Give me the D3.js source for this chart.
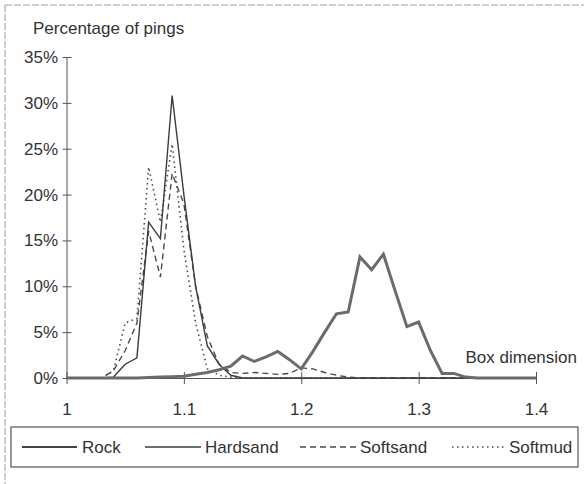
<!DOCTYPE html>
<html>
<head>
<meta charset="utf-8">
<script src="https://cdn.jsdelivr.net/npm/d3@7"></script>
<style>
  body { margin: 0; background: #fff; }
  text { font-family: "Liberation Sans", Arial, sans-serif; fill: #333; }
</style>
</head>
<body>
<div id="chart-area"></div>
<script>
// DATA ---------------------------------------------------------------
const boxDim = [1.00, 1.01, 1.02, 1.03, 1.04, 1.05, 1.06, 1.07, 1.08, 1.09,
                1.10, 1.11, 1.12, 1.13, 1.14, 1.15, 1.16, 1.17, 1.18, 1.19,
                1.20, 1.21, 1.22, 1.23, 1.24, 1.25, 1.26, 1.27, 1.28, 1.29,
                1.30, 1.31, 1.32, 1.33, 1.34, 1.35, 1.36, 1.37, 1.38, 1.39, 1.40]

const rock     = [0, 0, 0, 0, 0, 0, 0, 0.05, 0.1, 0.15,
                  0.2, 0.4, 0.6, 0.9, 1.3, 2.4, 1.8, 2.3, 2.9, 2.0,
                  1.0, 2.9, 5.0, 7.0, 7.2, 13.2, 11.8, 13.5, 9.5, 5.6,
                  6.1, 3.0, 0.5, 0.5, 0.1, 0, 0, 0, 0, 0, 0]
const hardsand = [0, 0, 0, 0, 0.1, 1.5, 2.2, 17.0, 15.2, 30.8,
                  20.0, 10.0, 3.5, 1.5, 0.3, 0, 0, 0, 0, 0,
                  0, 0, 0, 0, 0, 0, 0, 0, 0, 0,
                  0, 0, 0, 0, 0, 0, 0, 0, 0, 0, 0]
const softsand = [0, 0, 0, 0, 0.8, 3.0, 6.0, 16.0, 11.0, 22.3,
                  19.0, 10.0, 4.5, 1.5, 0.6, 0.5, 0.6, 0.5, 0.4, 0.5,
                  1.1, 1.0, 0.6, 0.3, 0.1, 0, 0, 0, 0, 0,
                  0, 0, 0, 0, 0, 0, 0, 0, 0, 0, 0]
const softmud  = [0, 0, 0, 0, 0.8, 6.0, 6.5, 23.0, 17.0, 25.5,
                  14.0, 6.0, 1.0, 0.3, 0.1, 0, 0, 0, 0, 0,
                  0, 0, 0, 0, 0, 0, 0, 0, 0, 0,
                  0, 0, 0, 0, 0, 0, 0, 0, 0, 0, 0]

const seriesNames = ['Rock', 'Hardsand', 'Softsand', 'Softmud']
const xTicks = [1, 1.1, 1.2, 1.3, 1.4]
const yTicks = [0, 5, 10, 15, 20, 25, 30, 35]

// styles per series
const STYLE = {
  Rock:     { stroke: '#6b6b6b', width: 3,   dash: null },
  Hardsand: { stroke: '#3c3c3c', width: 1.4, dash: null },
  Softsand: { stroke: '#4a4a4a', width: 1.4, dash: '6,4' },
  Softmud:  { stroke: '#4a4a4a', width: 1.6, dash: '1.5,3.5' }
}

// SVG ------------------------------------------------------------------
const W = 584, H = 484
const svg = d3.select('#chart-area').append('svg')
  .attr('width', W).attr('height', H)

// scanned page frame
svg.append('line').attr('x1', 5).attr('y1', 5).attr('x2', W).attr('y2', 5)
  .attr('stroke', '#9a9a9a').attr('stroke-dasharray', '7,2')
svg.append('line').attr('x1', 5).attr('y1', 5).attr('x2', 5).attr('y2', H)
  .attr('stroke', '#9a9a9a').attr('stroke-dasharray', '7,2')

// SCALES ---------------------------------------------------------------
const xScale = d3.scaleLinear().domain([1, 1.4]).range([66.5, 536])
const yScale = d3.scaleLinear().domain([0, 35]).range([378, 57])

// AXES -----------------------------------------------------------------
const gY = svg.append('g').attr('transform', 'translate(66.5,0)')
  .call(d3.axisLeft(yScale).tickValues(yTicks).tickFormat(d => d + '%')
    .tickSize(4).tickPadding(4.5).tickSizeOuter(0))
gY.selectAll('.tick line').attr('x2', 5).attr('x1', -4)
gY.selectAll('text').style('font-size', '17px')

const gX = svg.append('g').attr('transform', 'translate(0,378)')
  .call(d3.axisBottom(xScale).tickValues(xTicks).tickFormat(d3.format(''))
    .tickSize(6).tickPadding(19).tickSizeOuter(0))
gX.selectAll('.tick line').attr('y1', -6).attr('y2', 6)
gX.selectAll('text').style('font-size', '17px')

svg.selectAll('.domain, .tick line').attr('stroke', '#555')
svg.selectAll('.tick text').attr('fill', '#333').style('font-family', '"Liberation Sans", Arial, sans-serif')

// axis titles
svg.append('text').attr('x', 33).attr('y', 34).style('font-size', '17px')
  .text('Percentage of pings')
svg.append('text').attr('x', 577).attr('y', 363).attr('text-anchor', 'end')
  .style('font-size', '17px').text('Box dimension')

// LINES ----------------------------------------------------------------
const data = { Rock: rock, Hardsand: hardsand, Softsand: softsand, Softmud: softmud }
const line = d3.line()
  .x((d, i) => xScale(boxDim[i]))
  .y(d => yScale(d))

// draw thin ones first, Rock on top
;['Softmud', 'Softsand', 'Hardsand', 'Rock'].forEach(name => {
  const s = STYLE[name]
  svg.append('path')
    .datum(data[name])
    .attr('d', line)
    .attr('fill', 'none')
    .attr('stroke', s.stroke)
    .attr('stroke-width', s.width)
    .attr('stroke-dasharray', s.dash)
    .attr('stroke-linejoin', 'miter')
})

// LEGEND ---------------------------------------------------------------
const legend = svg.append('g')
legend.append('rect').attr('x', 11).attr('y', 427).attr('width', 567).attr('height', 40)
  .attr('fill', 'none').attr('stroke', '#555').attr('stroke-width', 1.2)

const legendPos = [
  { line: [22, 77],  text: 82 },
  { line: [145, 201], text: 205 },
  { line: [300, 358], text: 360 },
  { line: [452, 506], text: 509 }
]
seriesNames.forEach((name, i) => {
  const s = STYLE[name], p = legendPos[i]
  legend.append('line')
    .attr('x1', p.line[0]).attr('x2', p.line[1]).attr('y1', 447).attr('y2', 447)
    .attr('stroke', name === 'Rock' ? '#444' : s.stroke)
    .attr('stroke-width', name === 'Rock' ? 2 : s.width)
    .attr('stroke-dasharray', s.dash)
  legend.append('text').attr('x', p.text).attr('y', 453)
    .style('font-size', '17px').text(name)
})
</script>
</body>
</html>
